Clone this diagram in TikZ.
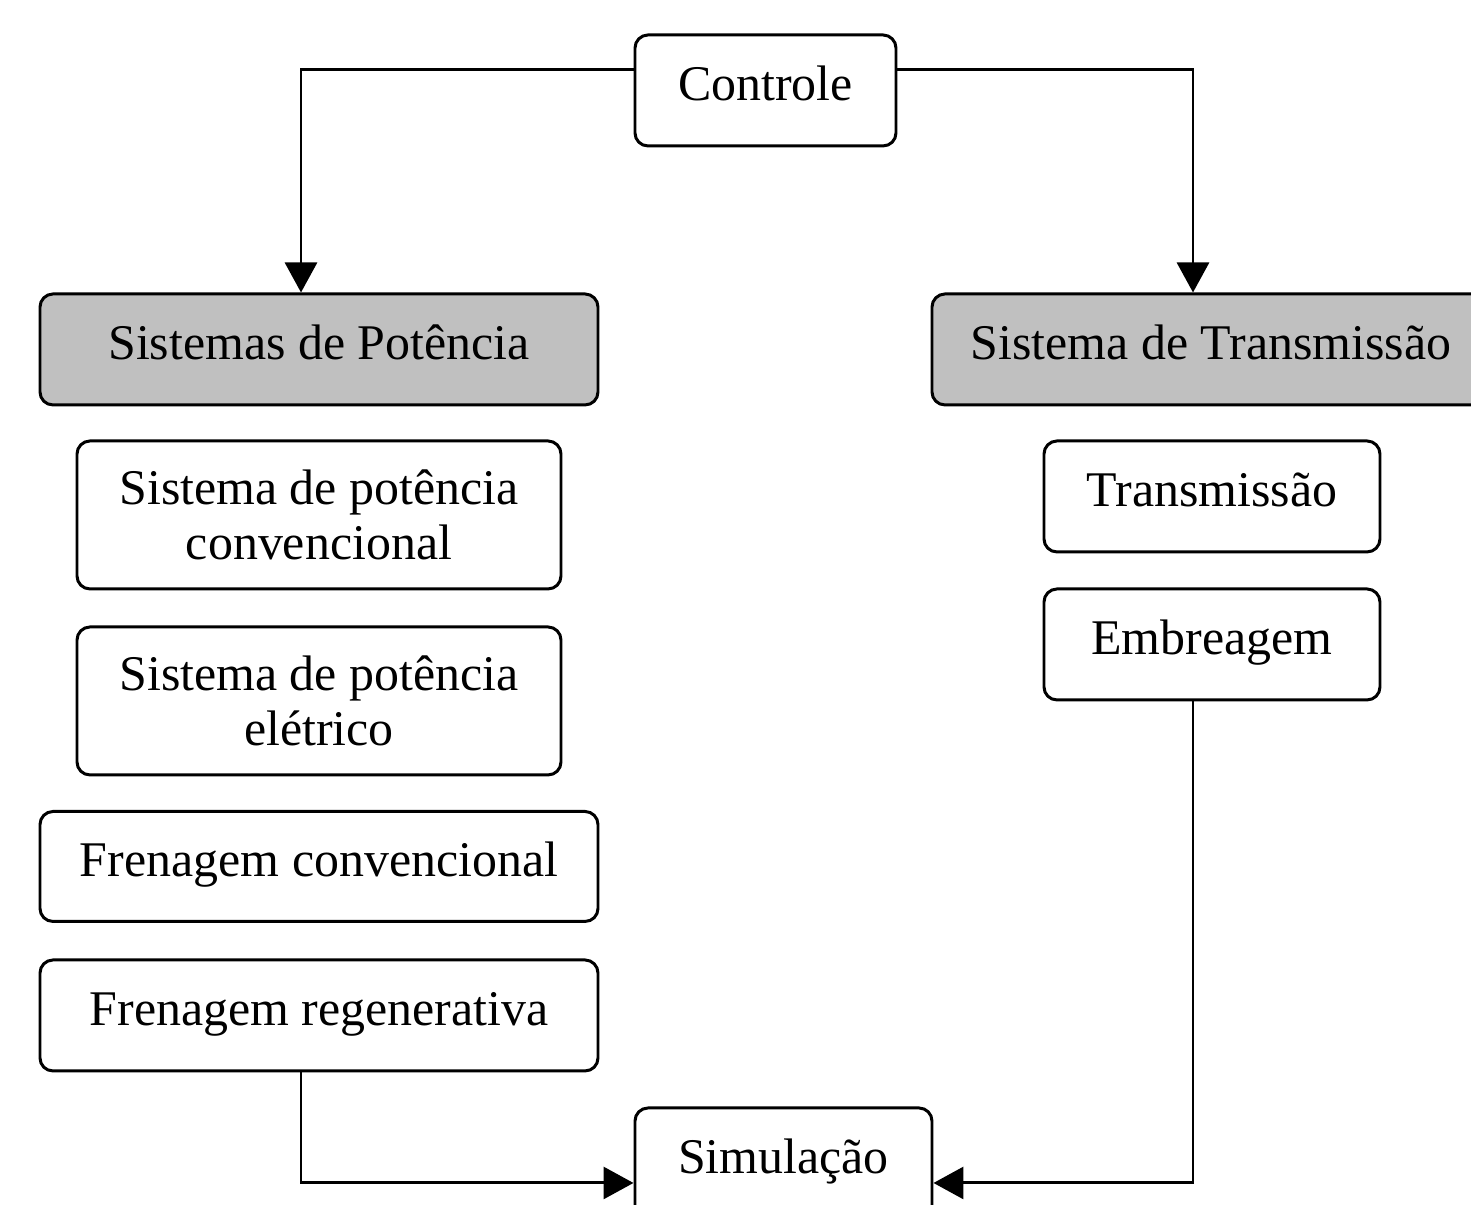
\documentclass[tikz,border=0pt]{standalone}
\usepackage{fontspec}
\setmainfont{Liberation Serif}
\usepackage{tikz}
\usetikzlibrary{arrows.meta, positioning, calc}
\definecolor{boxgray}{HTML}{C0C0C0}

\begin{document}
\begin{tikzpicture}[
    box/.style={draw, rounded corners=0.13cm, line width=0.85pt, align=center, inner sep=0pt,
      font=\fontsize{14.2}{15.6}\selectfont},
    oneline/.style={box, text height=0.7em, text depth=0.15em},
    group/.style={oneline, fill=boxgray},
    link/.style={line width=0.85pt, -{Triangle[width=0.32cm, length=0.3cm]}}
  ]
    \useasboundingbox (0, 0) rectangle (14.71, 12.05);
    % top
    \node[oneline, minimum width=2.61cm, minimum height=1.11cm] (ctrl) at (7.655, 11.145) {Controle};
    % left column
    \node[group, minimum width=5.58cm, minimum height=1.11cm] (pot) at (3.19, 8.555) {Sistemas de Potência};
    \node[box, minimum width=4.84cm, minimum height=1.48cm] (potconv) at (3.19, 6.90) {Sistema de potência\\convencional};
    \node[box, minimum width=4.84cm, minimum height=1.48cm] (potelet) at (3.19, 5.04) {Sistema de potência\\elétrico};
    \node[oneline, minimum width=5.58cm, minimum height=1.10cm] (frenconv) at (3.19, 3.385) {Frenagem convencional};
    \node[oneline, minimum width=5.58cm, minimum height=1.11cm] (frenreg) at (3.19, 1.895) {Frenagem regenerativa};
    % right column
    \node[group, minimum width=5.58cm, minimum height=1.11cm] (trans) at (12.11, 8.555) {Sistema de Transmissão};
    \node[oneline, minimum width=3.36cm, minimum height=1.11cm] (transm) at (12.12, 7.085) {Transmissão};
    \node[oneline, minimum width=3.36cm, minimum height=1.11cm] (embr) at (12.12, 5.605) {Embreagem};
    % bottom
    \node[oneline, minimum width=2.97cm, minimum height=1.11cm] (sim) at (7.835, 0.415) {Simulação};
    % connectors
    \draw[link] ([yshift=0.205cm]ctrl.west) -| ([xshift=-0.18cm]pot.north);
    \draw[link] ([yshift=0.205cm]ctrl.east) -| ([xshift=-0.18cm]trans.north);
    \draw[link] ([xshift=-0.18cm]frenreg.south) |- ([yshift=-0.195cm]sim.west);
    \draw[link] ([xshift=-0.19cm]embr.south) |- ([yshift=-0.195cm]sim.east);
\end{tikzpicture}
\end{document}
